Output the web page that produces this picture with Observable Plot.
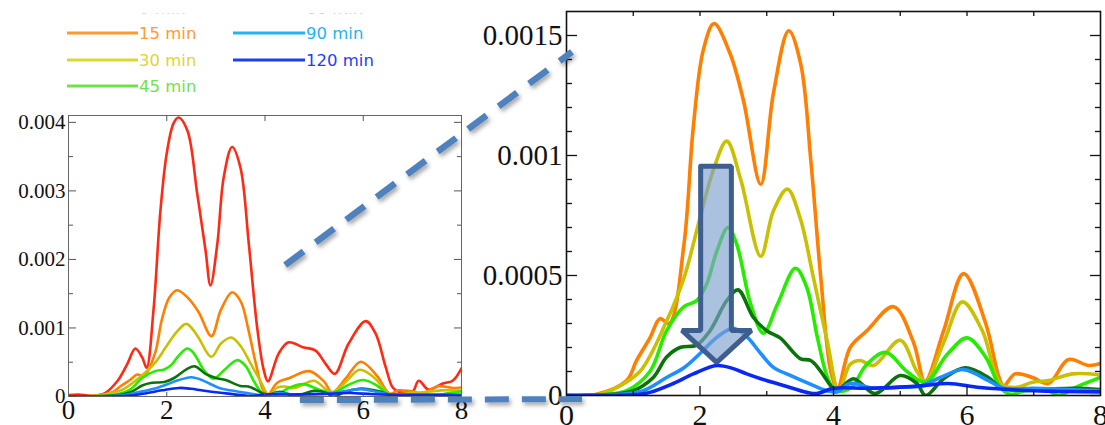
<!DOCTYPE html>
<html><head><meta charset="utf-8">
<script src="https://cdn.jsdelivr.net/npm/d3@7"></script>
<script src="https://cdn.jsdelivr.net/npm/@observablehq/plot@0.6"></script>
<style>
body{margin:0;background:#fff;width:1105px;height:425px;overflow:hidden;position:relative;}
#left{position:absolute;left:0;top:100px;width:470px;}
#right{position:absolute;left:470px;top:0;width:635px;}
#legend{position:absolute;left:0;top:13px;}
#overlay{position:absolute;left:0;top:0;pointer-events:none;}
</style></head><body>
<div id="left"></div>
<div id="right"></div>
<svg id="legend" width="420" height="90"></svg>
<svg id="overlay" width="1105" height="425"></svg>
<script>
// ---- data (y values in units of 1e-4) ----
const seriesNames = ["0 min","15 min","30 min","45 min","60 min","90 min","120 min"];
const seriesColors = ["#ff2a14","#ff7f00","#c8c000","#26ec00","#0b730b","#1e8fff","#0a28f5"];
const legendColors = ["#ff6a50","#ff9a30","#e0d530","#6de34a","#3a9a3a","#22b4f0","#1f3ff0"];

const x0 = [0,0.2,0.45,0.72,1.0,1.2,1.36,1.5,1.59,1.73,1.87,2.0,2.14,2.24,2.42,2.62,2.79,2.89,3.03,3.16,3.33,3.5,3.67,3.84,3.97,4.06,4.28,4.48,4.77,5.03,5.23,5.42,5.7,6.05,6.25,6.46,6.6,6.72,7.0,7.13,7.33,7.62,7.82,8.0];
const y0 = [0.2,0.3,0.1,0.4,2.3,4.8,7.0,5.7,4.2,12.6,27,35.5,39.9,40.7,38.8,29.6,21.3,16.2,22.3,32,36.4,33.4,22.3,10.1,4.0,2.2,6.3,7.9,7.2,6.7,4.8,3.3,7.7,11.0,9.2,4.2,1.3,0.7,0.7,2.3,1.0,1.9,2.3,4.1];

const x15 = [0,0.45,0.9,1.05,1.25,1.40,1.54,1.76,1.90,2.05,2.21,2.45,2.65,2.91,3.10,3.33,3.51,3.66,3.81,3.96,4.06,4.25,4.5,4.9,5.2,5.37,5.65,5.95,6.28,6.48,6.55,6.72,6.98,7.22,7.52,7.82,8.0];
const y15 = [0,0.05,0.62,1.46,2.4,3.2,3.0,6.3,11.2,14.4,15.5,14.25,12.3,8.8,12.6,15.2,13.8,9.8,4.9,1.0,0.3,2.0,2.7,3.7,2.2,0.6,2.7,5.08,3.0,0.75,0.4,0.9,0.75,0.5,1.5,1.25,1.33];

const x30 = [0,0.5,0.75,1.10,1.5,1.76,2.0,2.2,2.40,2.61,2.91,3.10,3.31,3.5,3.70,3.91,4.08,4.25,4.4,4.6,5.0,5.25,5.38,5.65,5.93,6.23,6.5,6.72,6.98,7.22,7.58,8];
const y30 = [0,0.05,0.33,1.0,3.1,4.9,7.4,9.4,10.6,9.0,5.8,7.7,8.6,7.4,4.9,2.2,0.2,1.3,1.46,1.25,2.3,1.0,0.6,2.2,3.9,2.7,0.5,0.33,0.55,0.62,0.9,0.85];

const x45 = [0,0.6,0.9,1.25,1.5,1.76,1.95,2.10,2.25,2.42,2.55,2.76,2.95,3.16,3.43,3.6,3.76,3.91,4.03,4.25,4.5,4.78,5.1,5.38,5.7,6.0,6.28,6.5,6.65,6.88,7.22,7.37,7.62,8];
const y45 = [0,0.05,0.2,1.0,2.7,3.7,3.95,4.65,6.0,7.0,6.3,3.8,2.6,3.8,5.3,4.5,2.4,0.75,0.2,0.3,1.3,1.8,1.0,0.55,1.7,2.4,1.6,0.33,0.05,0.2,0.2,0.0,0.33,0.75];

const x60 = [0,0.7,1.0,1.3,1.5,1.7,1.95,2.15,2.4,2.57,2.8,3.0,3.2,3.5,3.66,3.8,3.98,4.05,4.3,4.62,5.0,5.25,5.38,5.65,5.97,6.32,6.52,7.0,7.6,8];
const y60 = [0,0.05,0.2,0.75,1.6,2.0,2.1,2.7,3.95,4.4,3.25,2.7,2.4,1.54,1.46,1.04,0.33,0.2,0.7,0.08,0.83,0.5,0.0,0.7,1.15,0.75,0.3,0.25,0.3,0.25];

const x90 = [0,0.8,1.15,1.5,1.76,2.0,2.2,2.4,2.5,2.7,2.91,3.1,3.36,3.6,3.9,4.05,4.25,4.6,5.0,5.3,5.6,5.95,6.32,6.55,7.0,7.5,8];
const y90 = [0,0.05,0.2,0.75,1.16,1.75,2.3,2.7,2.8,2.45,1.75,1.17,0.83,0.54,0.2,0.15,0.5,0.3,0.35,0.4,0.75,1.08,0.62,0.3,0.3,0.25,0.2];

const x120 = [0,1.0,1.25,1.6,1.9,2.25,2.5,2.7,2.91,3.25,3.6,3.75,4.0,4.5,5.0,5.3,5.72,6.2,7.0,8];
const y120 = [0,0.03,0.13,0.5,0.9,1.25,1.12,0.9,0.7,0.42,0.13,0.08,0.3,0.3,0.35,0.4,0.5,0.33,0.2,0.15];

// tick values and labels
const xTickLabels = [0,2,4,6,8];
const leftYTicks = [0,0.001,0.002,0.003,0.004];
const leftYLabels = ["0","0.001","0.002","0.003","0.004"];
const leftYMinor = [0.0005,0.0015,0.0025,0.0035];
const rightYTicks = [0,0.0005,0.001,0.0015];
const rightYLabels = ["0","0.0005","0.001","0.0015"];
const rightYMinor = [0.0001,0.0002,0.0003,0.0004,0.0006,0.0007,0.0008,0.0009,0.0011,0.0012,0.0013,0.0014];

// big arrow in the zoomed panel (x, y in 1e-4)
const arrowX = [2.01,2.47,2.47,2.77,2.25,1.73,2.01,2.01];
const arrowY = [9.55,9.55,2.71,2.71,1.38,2.71,2.71,9.55];

// zoom connectors: [x, y] in left / right panel data coordinates
const zoomFrom = [4.42, 0.00191], zoomTo = [0.09, 0.00143];
const baseFrom = [4.72, -0.00006], baseTo = [0.24, -0.000017];

// ---- build ----
const xsAll = [x0,x15,x30,x45,x60,x90,x120];
const ysAll = [y0,y15,y30,y45,y60,y90,y120];
const series = seriesNames.map((name,i)=>xsAll[i].map((x,j)=>({series:name,x,y:ysAll[i][j]*1e-4})));
const arrow = arrowX.map((x,i)=>({x,y:arrowY[i]*1e-4}));

const serif = "'Liberation Serif','Times New Roman',serif";

const left = Plot.plot({
  width:470, height:325, marginLeft:68, marginRight:9, marginTop:15, marginBottom:29,
  x:{domain:[0,8]}, y:{domain:[0,0.0041]},
  style:{fontFamily:serif, background:"white", color:"#111"},
  marks:[
    ...series.map((d,i)=>Plot.line(d,{x:"x",y:"y",stroke:seriesColors[i],strokeWidth:2.6,curve:"catmull-rom",clip:true})),
    Plot.frame({stroke:"#666",strokeWidth:1}),
    Plot.axisY({ticks:leftYTicks,anchor:"left",tickSize:0,tickPadding:3,fontSize:21,label:null,tickFormat:d=>leftYLabels[leftYTicks.indexOf(d)]}),
    Plot.axisY({ticks:leftYTicks,anchor:"right",frameAnchor:"left",tickSize:7,fill:"none",label:null,stroke:"#555"}),
    Plot.axisY({ticks:leftYMinor,anchor:"right",frameAnchor:"left",tickSize:4,fill:"none",label:null,stroke:"#555"}),
    Plot.axisY({ticks:leftYTicks,anchor:"left",frameAnchor:"right",tickSize:7,fill:"none",label:null,stroke:"#555"}),
    Plot.axisY({ticks:leftYMinor,anchor:"left",frameAnchor:"right",tickSize:4,fill:"none",label:null,stroke:"#555"}),
    Plot.axisX({ticks:xTickLabels,anchor:"bottom",tickSize:0,tickPadding:3,fontSize:27,label:null,tickFormat:d=>String(d)}),
    Plot.axisX({ticks:[2,4,6],anchor:"bottom",frameAnchor:"top",tickSize:6,fill:"none",label:null,stroke:"#555"}),
    Plot.axisX({ticks:[2,4,6],anchor:"top",frameAnchor:"bottom",tickSize:5,fill:"none",label:null,stroke:"#555"})
  ]
});
document.getElementById("left").append(left);

const right = Plot.plot({
  width:635, height:425, marginLeft:96, marginRight:5, marginTop:11, marginBottom:30,
  x:{domain:[0,8]}, y:{domain:[0,0.0016]},
  style:{fontFamily:serif, background:"white", color:"#111"},
  marks:[
    ...series.slice(1).map((d,i)=>Plot.line(d,{x:"x",y:"y",stroke:seriesColors[i+1],strokeWidth:3.6,curve:"catmull-rom",clip:true})),
    Plot.line(arrow,{x:"x",y:"y",fill:"#7e9fd0",fillOpacity:0.65,stroke:"#3d5e8e",strokeWidth:5,strokeLinejoin:"miter"}),
    Plot.frame({stroke:"#111",strokeWidth:1.6}),
    Plot.axisY({ticks:rightYTicks,anchor:"left",tickSize:0,tickPadding:4,fontSize:29,label:null,tickFormat:d=>rightYLabels[rightYTicks.indexOf(d)]}),
    Plot.axisY({ticks:rightYTicks,anchor:"right",frameAnchor:"left",tickSize:10,fill:"none",label:null,strokeWidth:1.3}),
    Plot.axisY({ticks:rightYMinor,anchor:"right",frameAnchor:"left",tickSize:5,fill:"none",label:null,strokeWidth:1.3}),
    Plot.axisY({ticks:rightYTicks,anchor:"left",frameAnchor:"right",tickSize:10,fill:"none",label:null,strokeWidth:1.3}),
    Plot.axisY({ticks:rightYMinor,anchor:"left",frameAnchor:"right",tickSize:5,fill:"none",label:null,strokeWidth:1.3}),
    Plot.axisX({ticks:xTickLabels,anchor:"bottom",tickSize:0,tickPadding:8,fontSize:30,label:null,tickFormat:d=>String(d)}),
    Plot.axisX({ticks:[1,2,3,4,5,6,7],anchor:"bottom",frameAnchor:"top",tickSize:5,fill:"none",label:null,strokeWidth:1.3}),
    Plot.axisX({ticks:[2,4,6],anchor:"top",frameAnchor:"bottom",tickSize:10,fill:"none",label:null,strokeWidth:1.3}),
    Plot.axisX({ticks:[1,3,5,7],anchor:"top",frameAnchor:"bottom",tickSize:5,fill:"none",label:null,strokeWidth:1.3})
  ]
});
document.getElementById("right").append(right);

// ---- legend (top row is cut off by the picture edge) ----
const leg = d3.select("#legend");
const legendOrder = [[0,4],[1,5],[2,6],[3,null]];
const rowY = [-5,20,47,73];
legendOrder.forEach((pair,r)=>{
  pair.forEach((si,c)=>{
    if (si===null) return;
    const lx0 = c===0?67:233, lx1 = c===0?138:305;
    const g = leg.append("g").attr("opacity", r===0?0.35:1);
    g.append("line").attr("x1",lx0).attr("x2",lx1).attr("y1",rowY[r]).attr("y2",rowY[r])
      .attr("stroke",legendColors[si]).attr("stroke-width",3);
    g.append("text").attr("x",lx1+1).attr("y",rowY[r]).attr("dy","0.36em")
      .attr("font-family","'DejaVu Sans',Verdana,sans-serif").attr("font-size",16.5)
      .attr("fill",legendColors[si]).text(seriesNames[si]);
  });
});

// ---- dashed zoom connectors, positioned with the charts' own scales ----
const lx = left.scale("x"), ly = left.scale("y"), rx = right.scale("x"), ry = right.scale("y");
const L = (p)=>[0+lx.apply(p[0]), 100+ly.apply(p[1])];
const R = (p)=>[470+rx.apply(p[0]), 0+ry.apply(p[1])];
const ov = d3.select("#overlay");
const defs = ov.append("defs");
const f = defs.append("filter").attr("id","sh").attr("filterUnits","userSpaceOnUse")
  .attr("x",0).attr("y",0).attr("width",1105).attr("height",425);
f.append("feDropShadow").attr("dx",2).attr("dy",3).attr("stdDeviation",2).attr("flood-color","#000").attr("flood-opacity",0.35);
const links = [[L(zoomFrom),R(zoomTo),"23,15",6.5],[L(baseFrom),R(baseTo),"24,13",6]];
links.forEach(([a,b,dash,w])=>{
  ov.append("line").attr("x1",a[0]).attr("y1",a[1]).attr("x2",b[0]).attr("y2",b[1])
    .attr("stroke","#4f81bd").attr("stroke-width",w).attr("stroke-dasharray",dash)
    .attr("filter","url(#sh)");
});
</script>
</body></html>
